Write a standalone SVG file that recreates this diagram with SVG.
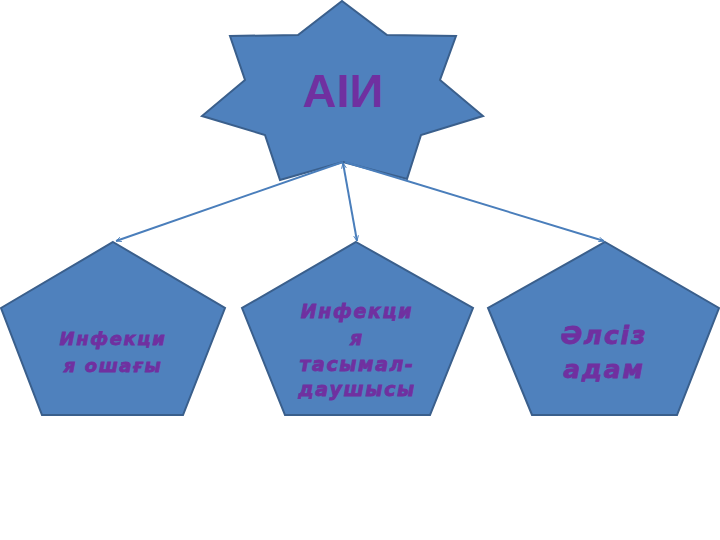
<svg xmlns="http://www.w3.org/2000/svg" width="720" height="540" viewBox="0 0 720 540">
<defs>
<style>
.shape{fill:#4F81BD;stroke:#3A5F8C;stroke-width:2;stroke-linejoin:miter}
.conn{stroke:#4A7EBB;stroke-width:2;fill:none}
.lbl{fill:#7030A0;stroke:#7030A0;stroke-width:0.8;font-family:"DejaVu Sans",sans-serif;font-weight:bold;font-style:oblique;text-anchor:middle}
.title{fill:#7030A0;font-family:"Liberation Sans",Arial,sans-serif;font-weight:bold;text-anchor:middle;font-size:47px}
</style>
<marker id="arr" viewBox="0 0 10 10" refX="9" refY="5" markerWidth="6" markerHeight="6" orient="auto-start-reverse" markerUnits="userSpaceOnUse">
<path d="M0,1 L9,5 L0,9" fill="none" stroke="#4A7EBB" stroke-width="1.5"/>
</marker>
</defs>
<rect width="720" height="540" fill="#FFFFFF"/>
<g id="node-aii">
<polygon class="shape" points="342,1 387,35 456,36 440,80 483,116 421,135 407,179 343,162 280,180 265,135 202,116 245,80 230,36 298,35"/>
<text class="title" x="343" y="107">АІИ</text>
</g>
<g id="node-left">
<polygon class="shape" points="113,242 225,308 183,415 42,415 1,308"/>
<text class="lbl" font-size="18" letter-spacing="1.6"><tspan x="113" y="345">Инфекци</tspan><tspan x="113" y="372">я ошағы</tspan></text>
</g>
<g id="node-middle">
<polygon class="shape" points="356,242 473,308 430,415 285,415 242,308"/>
<text class="lbl" font-size="19" letter-spacing="1.6"><tspan x="357" y="318">Инфекци</tspan><tspan x="357" y="345">я</tspan><tspan x="357" y="371">тасымал-</tspan><tspan x="357" y="396">даушысы</tspan></text>
</g>
<g id="node-right">
<polygon class="shape" points="605,242 719,308 677,415 532,415 488,308"/>
<text class="lbl" font-size="25" letter-spacing="1.8"><tspan x="604" y="344">Әлсіз</tspan><tspan x="604" y="378">адам</tspan></text>
</g>
<g id="connectors">
<line class="conn" x1="343" y1="162" x2="116" y2="241" marker-end="url(#arr)"/>
<line class="conn" x1="343" y1="163" x2="357" y2="241" marker-start="url(#arr)" marker-end="url(#arr)"/>
<line class="conn" x1="345" y1="162" x2="604" y2="241" marker-end="url(#arr)"/>
</g>
</svg>
